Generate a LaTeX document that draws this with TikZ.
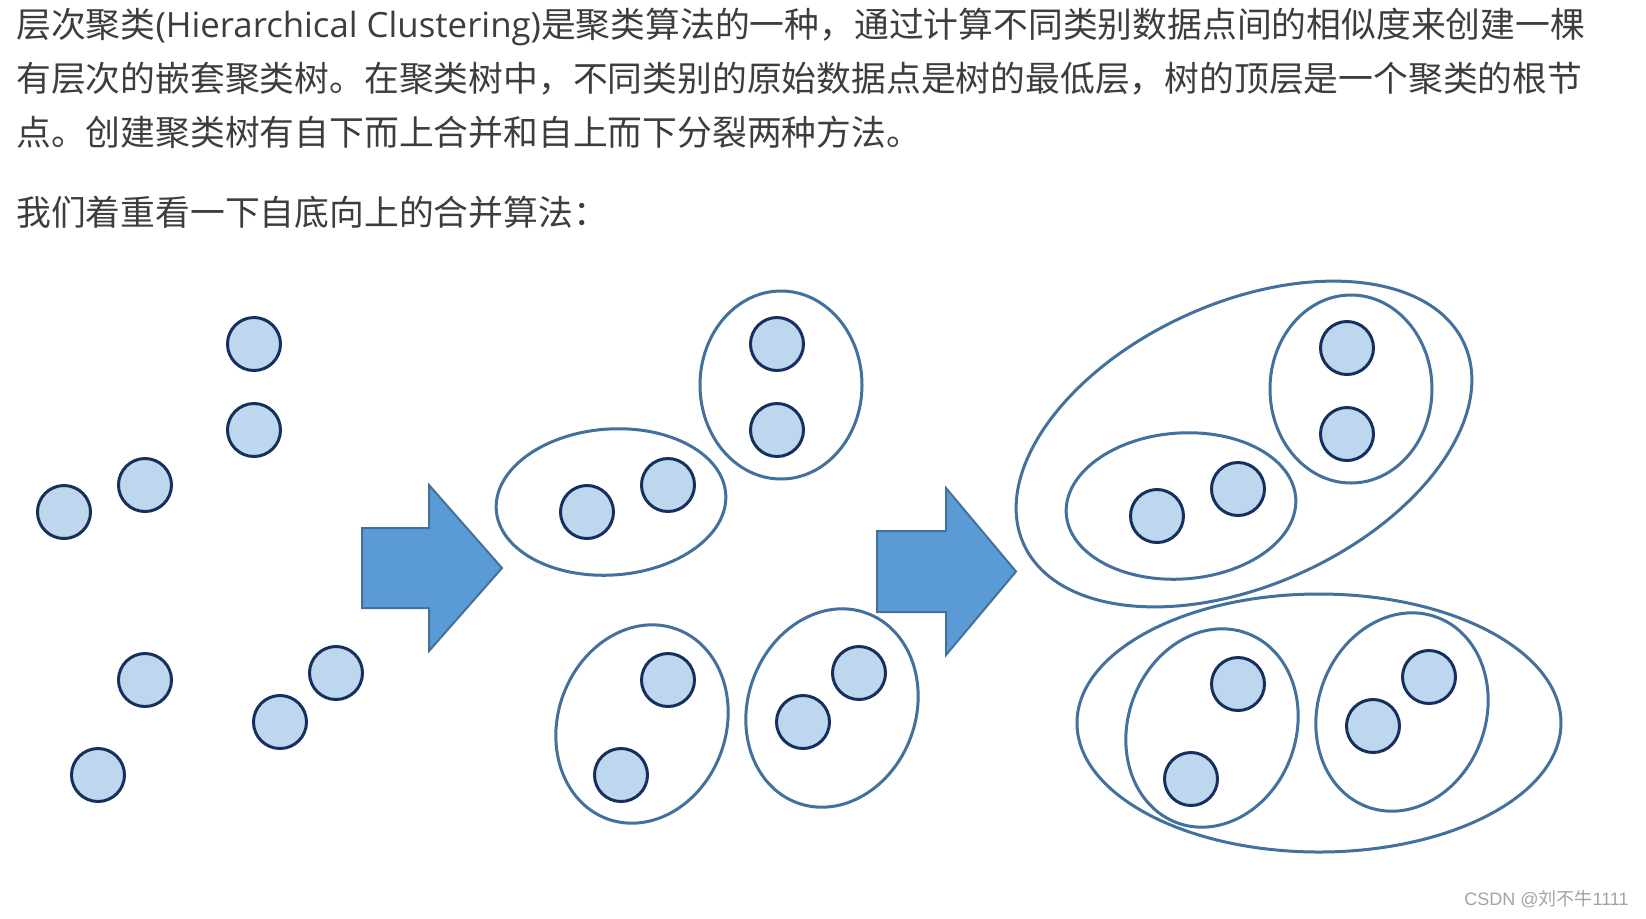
\documentclass[tikz,border=0pt]{standalone}
\usepackage{fontspec}
\newfontfamily\zh{Noto Sans CJK SC}
\newfontfamily\en{Open Sans}
\newfontfamily\wm{Liberation Sans}
\definecolor{txt}{HTML}{3D3D3D}
\definecolor{wmc}{HTML}{A3A3A3}
\definecolor{ptfill}{HTML}{BDD7EE}
\definecolor{ptdraw}{HTML}{172F5F}
\definecolor{grpc}{HTML}{41719C}
\definecolor{arrfill}{HTML}{5B9BD5}
\definecolor{arrdraw}{HTML}{41719C}
\tikzset{
  txtline/.style={anchor=base west, inner sep=0, text=txt, font=\fontsize{17.4pt}{20pt}\selectfont\zh},
  pt/.style={circle, draw=ptdraw, fill=ptfill, line width=1.5pt, minimum size=26.5pt, inner sep=0},
  grp/.style={draw=grpc, line width=1.5pt},
  arr/.style={draw=arrdraw, fill=arrfill, line width=1pt, line join=miter}
}
\begin{document}
\begin{tikzpicture}[x=0.5pt,y=0.5pt]
\useasboundingbox[fill=white] (0,0) rectangle (1646,-918);
% text
\node[txtline] (l1) at (16,-37) {层次聚类{\en (Hierarchical Clustering)}是聚类算法的一种，通过计算不同类别数据点间的相似度来创建一棵};
\node[txtline] (l2) at (16,-91) {有层次的嵌套聚类树。在聚类树中，不同类别的原始数据点是树的最低层，树的顶层是一个聚类的根节};
\node[txtline] (l3) at (16,-145) {点。创建聚类树有自下而上合并和自上而下分裂两种方法。};
\node[txtline] (l4) at (16,-225) {我们着重看一下自底向上的合并算法：};
\node[anchor=base east, inner sep=0, text=wmc, font=\fontsize{9pt}{10pt}\selectfont] (wm) at (1629,-905) {{\wm CSDN @}{\zh 刘不牛}{\wm 1111}};
% points
\foreach \n/\x/\y in {1/254/344, 2/254/430, 3/145/485, 4/64/512, 5/145/680, 6/98/775, 7/280/722, 8/336/673} {
  \node[pt] (a\n) at (\x,-\y) {};
  \node[pt] (b\n) at (\x+523,-\y) {};
  \node[pt] (c\n) at (\x+1093,-\y-4) {};
}
% middle clusters
\draw[grp] (781,-385) ellipse [x radius=81, y radius=94];
\draw[grp, shift={(611,-502)}, rotate=4] (0,0) ellipse [x radius=115, y radius=73];
\draw[grp, shift={(642,-724)}, rotate=-20] (0,0) ellipse [x radius=84, y radius=101];
\draw[grp, shift={(832,-708)}, rotate=-20] (0,0) ellipse [x radius=84, y radius=101];
% right clusters
\draw[grp] (1351,-389) ellipse [x radius=81, y radius=94];
\draw[grp, shift={(1181,-506)}, rotate=4] (0,0) ellipse [x radius=115, y radius=73];
\draw[grp, shift={(1212,-728)}, rotate=-20] (0,0) ellipse [x radius=84, y radius=101];
\draw[grp, shift={(1402,-712)}, rotate=-20] (0,0) ellipse [x radius=84, y radius=101];
\draw[grp, shift={(1244,-444)}, rotate=24.5] (0,0) ellipse [x radius=242, y radius=141];
\draw[grp] (1319,-723) ellipse [x radius=242, y radius=129];
% arrows
\draw[arr] (362,-528) -- (429,-528) -- (429,-485) -- (502,-568) -- (429,-651) -- (429,-608) -- (362,-608) -- cycle;
\draw[arr] (877,-531) -- (946,-531) -- (946,-488) -- (1016,-571.5) -- (946,-655) -- (946,-612) -- (877,-612) -- cycle;
\end{tikzpicture}
\end{document}
